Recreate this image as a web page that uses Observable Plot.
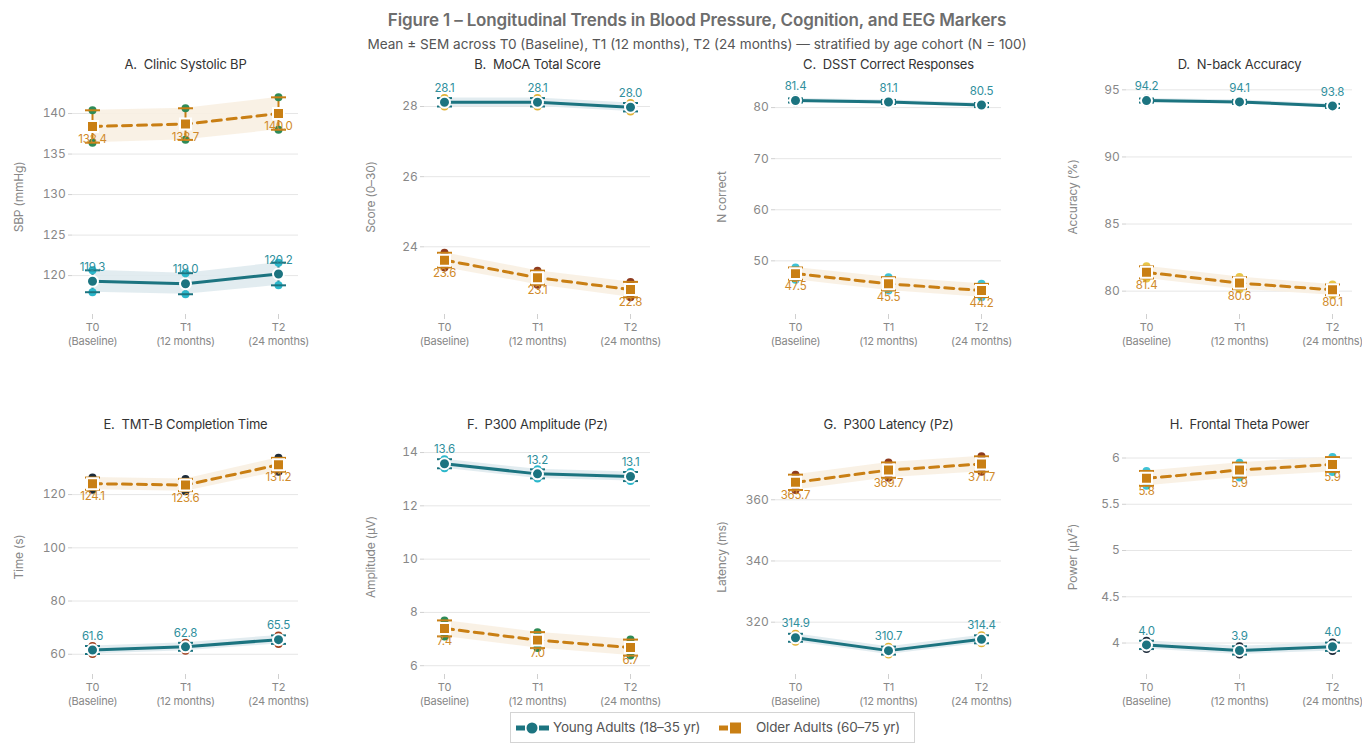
<!DOCTYPE html>
<html><head><meta charset="utf-8">
<script src="https://cdn.jsdelivr.net/npm/d3@7"></script>
<script src="https://cdn.jsdelivr.net/npm/@observablehq/plot@0.6"></script>
<style>
body{margin:0;background:#fff;font-family:Inter,"Noto Sans",sans-serif;overflow:hidden;}
#root{position:relative;width:1362px;height:744px;overflow:hidden;}
.title{position:absolute;left:0;width:1394px;text-align:center;top:10px;font-size:17px;font-weight:600;color:#6d6d6d;letter-spacing:-0.15px;white-space:nowrap;}
.subtitle{position:absolute;left:0;width:1394px;text-align:center;top:36px;font-size:13.6px;color:#555;white-space:nowrap;}
.panel{position:absolute;width:352px;}
.panel svg{max-width:none !important;}
.legend{position:absolute;left:510px;top:712px;width:405px;height:31px;border:1px solid #d4d4d4;box-sizing:border-box;font-size:13.5px;color:#555;letter-spacing:-0.2px;white-space:nowrap;}
.legend svg{position:absolute;top:7px;}
.legend span{position:absolute;top:6px;line-height:16px;}
</style></head>
<body><div id="root">
<div class="title">Figure 1 – Longitudinal Trends in Blood Pressure, Cognition, and EEG Markers</div>
<div class="subtitle">Mean ± SEM across T0 (Baseline), T1 (12 months), T2 (24 months) — stratified by age cohort (N = 100)</div>
<div class="legend">
  <svg style="left:4px" width="36" height="16"><line x1="1" y1="8" x2="10" y2="8" stroke="#1c7480" stroke-width="5"/><line x1="24" y1="8" x2="34" y2="8" stroke="#1c7480" stroke-width="5"/><circle cx="17" cy="8" r="5.5" fill="#1c7480"/></svg>
  <span style="left:42px">Young Adults (18–35 yr)</span>
  <svg style="left:207px" width="32" height="16"><line x1="1" y1="8" x2="10" y2="8" stroke="#c97f14" stroke-width="5"/><rect x="12" y="2.5" width="11" height="11" fill="#c97f14"/></svg>
  <span style="left:245px">Older Adults (60–75 yr)</span>
</div>
</div>
<script>
const timepoints = ["T0", "T1", "T2"];
const timeLabels = ["T0\n(Baseline)", "T1\n(12 months)", "T2\n(24 months)"];
const panelTitles = ["A.\u00a0 Clinic Systolic BP", "B.\u00a0 MoCA Total Score", "C.\u00a0 DSST Correct Responses", "D.\u00a0 N-back Accuracy",
  "E.\u00a0 TMT-B Completion Time", "F.\u00a0 P300 Amplitude (Pz)", "G.\u00a0 P300 Latency (Pz)", "H.\u00a0 Frontal Theta Power"];
const yLabels = ["SBP (mmHg)", "Score (0–30)", "N correct", "Accuracy (%)", "Time (s)", "Amplitude (µV)", "Latency (ms)", "Power (µV²)"];
const youngMeans = [[119.3, 119.0, 120.2], [28.12, 28.12, 27.98], [81.4, 81.1, 80.5], [94.2, 94.1, 93.8],
  [61.6, 62.8, 65.5], [13.58, 13.2, 13.1], [314.9, 310.7, 314.4], [3.98, 3.92, 3.96]];
const youngSems = [[1.35, 1.3, 1.4], [0.12, 0.12, 0.12], [0.4, 0.4, 0.4], [0.15, 0.15, 0.15],
  [1.5, 1.5, 1.6], [0.17, 0.17, 0.17], [1.3, 1.3, 1.3], [0.045, 0.045, 0.045]];
const olderMeans = [[138.4, 138.7, 140.0], [23.62, 23.12, 22.78], [47.5, 45.5, 44.2], [81.4, 80.6, 80.1],
  [124.1, 123.6, 131.2], [7.4, 6.96, 6.68], [365.7, 369.7, 371.7], [5.78, 5.87, 5.93]];
const olderSems = [[2.0, 1.95, 2.0], [0.21, 0.2, 0.22], [1.2, 1.3, 1.3], [0.45, 0.45, 0.4],
  [2.3, 2.3, 2.6], [0.3, 0.3, 0.3], [2.5, 2.5, 2.5], [0.08, 0.08, 0.08]];
const yDomains = [[115.2, 144.2], [22.07, 28.77], [39.5, 85.5], [78.26, 95.77],
  [52.4, 140.7], [5.67, 14.49], [302.9, 379.7], [3.66, 6.2]];
const yTicks = [[120, 125, 130, 135, 140], [24, 26, 28], [50, 60, 70, 80], [80, 85, 90, 95],
  [60, 80, 100, 120], [6, 8, 10, 12, 14], [320, 340, 360], [4, 4.5, 5, 5.5, 6]];
const capColorsYoung = ["#2bb7cb", "#e0b238", "#1a5f6a", "#1a5f6a", "#a0411f", "#2bb7cb", "#e0b238", "#1c2b3a"];
const capColorsOlder = ["#2e8b57", "#8e3b1f", "#3ec2d6", "#e8c547", "#1c2b3a", "#2e8b57", "#8e3b1f", "#3ec2d6"];

const cohortStyle = {
  young: {color: "#1c7480", label: "#2f8f9d", band: "#dfeaee", symbol: "circle", r: 5.5, dash: null, dy: -14},
  older: {color: "#c97f14", label: "#d08a2a", band: "#f8efe2", symbol: "square", r: 6.2, dash: "9,6", dy: 13}
};
const capSymbol = {draw(ctx, size) { const r = Math.sqrt(size / Math.PI); ctx.moveTo(-r, 0); ctx.lineTo(r, 0); }};
const fmt = d3.format(".1f");
const panelLeft = [0, 352, 703, 1054];
const panelTop = [50, 410];
const root = document.getElementById("root");

for (let i = 0; i < 8; i++) {
  const series = {
    young: timepoints.map((t, j) => ({t, mean: youngMeans[i][j], sem: youngSems[i][j], cap: capColorsYoung[i]})),
    older: timepoints.map((t, j) => ({t, mean: olderMeans[i][j], sem: olderSems[i][j], cap: capColorsOlder[i]}))
  };
  const marks = [
    Plot.gridY(yTicks[i], {stroke: "#e6e6e6", strokeOpacity: 1}),
    Plot.axisY(yTicks[i], {tickSize: 4, stroke: "#d0d0d0", fill: "#888", fontSize: 12, label: yLabels[i],
      labelAnchor: "center", labelArrow: "none", labelOffset: 58, tickPadding: 3, tickFormat: d => String(d)}),
    Plot.axisX({tickSize: 5, stroke: "#d0d0d0", fill: "#888", fontSize: 11, label: null, tickPadding: 2, lineHeight: 1.25,
      letterSpacing: "-0.3px", tickFormat: t => timeLabels[timepoints.indexOf(t)]}),
  ];
  for (const key of ["young", "older"]) {
    const s = cohortStyle[key], data = series[key];
    marks.push(Plot.areaY(data, {x: "t", y1: d => d.mean - d.sem, y2: d => d.mean + d.sem, fill: s.band, fillOpacity: 0.9}));
  }
  for (const key of ["young", "older"]) {
    const s = cohortStyle[key], data = series[key];
    marks.push(
      Plot.ruleX(data, {x: "t", y1: d => d.mean - d.sem, y2: d => d.mean + d.sem, stroke: s.color, strokeWidth: 2}),
      Plot.dot(data, {x: "t", y: d => d.mean + d.sem, r: 4, fill: d => d.cap, stroke: null}),
      Plot.dot(data, {x: "t", y: d => d.mean - d.sem, r: 4, fill: d => d.cap, stroke: null}),
      Plot.dot(data, {x: "t", y: d => d.mean + d.sem, r: 7.5, symbol: capSymbol, stroke: s.color, strokeWidth: 2, fill: "none"}),
      Plot.dot(data, {x: "t", y: d => d.mean - d.sem, r: 7.5, symbol: capSymbol, stroke: s.color, strokeWidth: 2, fill: "none"}),
      Plot.line(data, {x: "t", y: "mean", stroke: s.color, strokeWidth: 3, strokeDasharray: s.dash})
    );
  }
  for (const key of ["young", "older"]) {
    const s = cohortStyle[key], data = series[key];
    marks.push(
      Plot.dot(data, {x: "t", y: "mean", r: s.r, symbol: s.symbol, fill: s.color, stroke: "white", strokeWidth: 2}),
      Plot.text(data, {x: "t", y: "mean", text: d => fmt(d.mean), dy: s.dy, fill: s.label, fontSize: 11.5})
    );
  }
  marks.push(Plot.text([panelTitles[i]], {text: d => d, frameAnchor: "top", lineAnchor: "middle", dy: -15, fontSize: 13, fill: "#333"}));

  const chart = Plot.plot({
    width: 352, height: 300,
    marginTop: 29, marginBottom: 36, marginLeft: 72, marginRight: 54,
    style: {fontFamily: "Inter, 'Noto Sans', sans-serif", fontSize: "12px", background: "transparent", overflow: "visible", letterSpacing: "-0.2px"},
    x: {type: "point", domain: timepoints, padding: 0.21},
    y: {domain: yDomains[i]},
    marks
  });
  const wrap = document.createElement("div");
  wrap.className = "panel";
  wrap.style.left = panelLeft[i % 4] + "px";
  wrap.style.top = panelTop[Math.floor(i / 4)] + "px";
  wrap.appendChild(chart);
  root.appendChild(wrap);
}
</script>
</body></html>
